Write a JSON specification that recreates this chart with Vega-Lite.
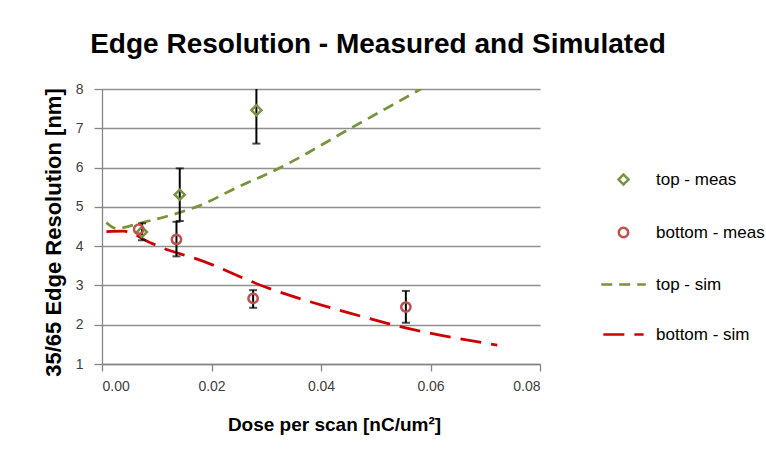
{
  "$schema": "https://vega.github.io/schema/vega-lite/v6.json",
  "width": 438,
  "height": 275,
  "autosize": {"type": "none"},
  "padding": {"left": 102, "top": 89, "right": 226, "bottom": 98},
  "background": "white",
  "title": {
    "text": "Edge Resolution - Measured and Simulated",
    "font": "Liberation Sans",
    "fontSize": 28,
    "fontWeight": "bold",
    "color": "black",
    "anchor": "middle",
    "frame": "group",
    "dx": 57,
    "offset": 1,
    "baseline": "alphabetic"
  },
  "datasets": {
    "meas": [
      {"series": "top - meas", "dose": 0.0073, "res": 4.36, "lo": 4.15, "hi": 4.58},
      {"series": "top - meas", "dose": 0.0142, "res": 5.31, "lo": 4.64, "hi": 5.98},
      {"series": "top - meas", "dose": 0.0282, "res": 7.46, "lo": 6.61, "hi": 8.3},
      {"series": "bottom - meas", "dose": 0.0067, "res": 4.43, "lo": null, "hi": null},
      {"series": "bottom - meas", "dose": 0.0136, "res": 4.17, "lo": 3.74, "hi": 4.62},
      {"series": "bottom - meas", "dose": 0.0276, "res": 2.67, "lo": 2.43, "hi": 2.88},
      {"series": "bottom - meas", "dose": 0.0555, "res": 2.45, "lo": 2.05, "hi": 2.86}
    ],
    "sim": [
      {"series": "top - sim", "dose": 0.0008, "res": 4.6},
      {"series": "top - sim", "dose": 0.0025, "res": 4.45},
      {"series": "top - sim", "dose": 0.007, "res": 4.59},
      {"series": "top - sim", "dose": 0.0145, "res": 4.87},
      {"series": "top - sim", "dose": 0.018, "res": 5.04},
      {"series": "top - sim", "dose": 0.024, "res": 5.45},
      {"series": "top - sim", "dose": 0.0326, "res": 6.0},
      {"series": "top - sim", "dose": 0.0454, "res": 7.0},
      {"series": "top - sim", "dose": 0.0582, "res": 8.0},
      {"series": "top - sim", "dose": 0.0722, "res": 9.15},
      {"series": "bottom - sim", "dose": 0.0008, "res": 4.37},
      {"series": "bottom - sim", "dose": 0.0039, "res": 4.38},
      {"series": "bottom - sim", "dose": 0.0091, "res": 4.07},
      {"series": "bottom - sim", "dose": 0.0121, "res": 3.9},
      {"series": "bottom - sim", "dose": 0.017, "res": 3.69},
      {"series": "bottom - sim", "dose": 0.0302, "res": 2.94},
      {"series": "bottom - sim", "dose": 0.0454, "res": 2.29},
      {"series": "bottom - sim", "dose": 0.0545, "res": 1.95},
      {"series": "bottom - sim", "dose": 0.0722, "res": 1.48}
    ]
  },
  "layer": [
    {
      "data": {"name": "sim"},
      "mark": {"type": "line", "strokeWidth": 2.75, "clip": true, "interpolate": "monotone"},
      "encoding": {
        "x": {
          "field": "dose",
          "type": "quantitative",
          "scale": {"domain": [0, 0.08], "nice": false, "zero": false},
          "axis": {
            "values": [0, 0.02, 0.04, 0.06, 0.08],
            "format": ".2f",
            "grid": false,
            "tickSize": 7,
            "labelPadding": 8,
            "labelOverlap": false,
            "title": "Dose per scan [nC/um²]",
            "titleFontSize": 19,
            "titleX": 232,
            "titlePadding": 22
          }
        },
        "y": {
          "field": "res",
          "type": "quantitative",
          "scale": {"domain": [1, 8], "nice": false, "zero": false},
          "axis": {
            "values": [1, 2, 3, 4, 5, 6, 7, 8],
            "tickCount": 8,
            "format": "d",
            "grid": true,
            "tickSize": 8,
            "labelPadding": 11,
            "labelOverlap": false,
            "title": "35/65 Edge Resolution [nm]",
            "titleFontSize": 22,
            "titleY": 143,
            "titlePadding": 10
          }
        },
        "color": {
          "field": "series",
          "type": "nominal",
          "title": null,
          "scale": {
            "domain": ["top - meas", "bottom - meas", "top - sim", "bottom - sim"],
            "range": ["#77933C", "#C0504D", "#77933C", "#CC0000"]
          },
          "legend": {
            "orient": "none",
            "legendX": 513,
            "legendY": 82,
            "symbolSize": 100,
            "symbolStrokeWidth": 2.5,
            "symbolFillColor": "transparent",
            "labelFont": "Liberation Sans",
            "labelFontSize": 17,
            "labelColor": "black",
            "labelOffset": 24,
            "rowPadding": 32,
            "padding": 0,
            "encode": {
              "symbols": {
                "update": {
                  "fill": {"value": "transparent"},
                  "fillOpacity": {"value": 0},
                  "stroke": {"scale": "color", "field": "value"},
                  "size": {"scale": "size", "field": "value"}
                }
              }
            }
          }
        },
        "strokeDash": {
          "field": "series",
          "type": "nominal",
          "scale": {
            "domain": ["top - meas", "bottom - meas", "top - sim", "bottom - sim"],
            "range": [[1, 0], [1, 0], [11, 7], [21, 10]]
          }
        },
        "shape": {
          "field": "series",
          "type": "nominal",
          "scale": {
            "domain": ["top - meas", "bottom - meas", "top - sim", "bottom - sim"],
            "range": ["diamond", "circle", "M-5.2,0H5.2", "M-5.2,0H5.2"]
          }
        }
      }
    },
    {
      "data": {"name": "meas"},
      "mark": {"type": "rule", "color": "black", "strokeWidth": 2, "clip": true},
      "encoding": {
        "x": {"field": "dose", "type": "quantitative"},
        "y": {"field": "lo", "type": "quantitative"},
        "y2": {"field": "hi"}
      }
    },
    {
      "data": {"name": "meas"},
      "mark": {"type": "tick", "orient": "horizontal", "color": "black", "thickness": 2, "size": 8, "clip": true},
      "encoding": {
        "x": {"field": "dose", "type": "quantitative"},
        "y": {"field": "lo", "type": "quantitative"}
      }
    },
    {
      "data": {"name": "meas"},
      "mark": {"type": "tick", "orient": "horizontal", "color": "black", "thickness": 2, "size": 8, "clip": true},
      "encoding": {
        "x": {"field": "dose", "type": "quantitative"},
        "y": {"field": "hi", "type": "quantitative"}
      }
    },
    {
      "data": {"name": "meas"},
      "mark": {"type": "point", "filled": false, "strokeWidth": 2.5, "opacity": 1, "clip": true},
      "encoding": {
        "x": {"field": "dose", "type": "quantitative"},
        "y": {"field": "res", "type": "quantitative"},
        "color": {"field": "series", "type": "nominal"},
        "shape": {"field": "series", "type": "nominal"},
        "size": {
          "field": "series",
          "type": "nominal",
          "scale": {
            "domain": ["top - meas", "bottom - meas", "top - sim", "bottom - sim"],
            "range": [100, 60, 100, 100]
          }
        }
      }
    }
  ],
  "config": {
    "view": {"stroke": null},
    "font": "Liberation Sans",
    "legend": {"symbolFillColor": "transparent"},
    "axis": {
      "labelFont": "Liberation Sans",
      "labelFontSize": 14,
      "labelColor": "#404040",
      "titleFont": "Liberation Sans",
      "titleFontSize": 18,
      "titleFontWeight": "bold",
      "titleColor": "black",
      "domainColor": "#868686",
      "domainWidth": 1.3,
      "tickColor": "#868686",
      "tickWidth": 1.3,
      "gridColor": "#909090",
      "gridWidth": 1.3,
      "gridOpacity": 1
    }
  }
}
